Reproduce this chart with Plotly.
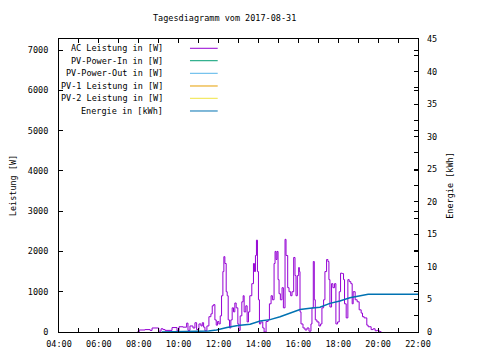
import plotly.graph_objects as go

DAY = "2017-08-31 "

# AC power (W)
ac_times = ["07:55","08:01","08:19","08:34","08:40","08:55","09:00","09:07","09:13","09:19",
            "09:34","09:40","09:52","09:55","10:01","10:13","10:24","10:28","10:34","10:43",
            "10:49","10:54","11:01","11:07","11:11","11:15","11:19","11:25","11:31","11:37",
            "11:41","11:45","11:49","11:53","11:57","12:01","12:05","12:09","12:13","12:16",
            "12:19","12:23","12:26","12:29","12:33","12:37","12:41","12:45","12:49","12:53",
            "12:58","13:01","13:05","13:10","13:14","13:17","13:22","13:26","13:30","13:34",
            "13:40","13:45","13:48","13:51","13:54","13:57","14:00","14:03","14:07","14:13",
            "14:17","14:23","14:29","14:33","14:38","14:42","14:47","14:50","14:53","14:56",
            "14:59","15:02","15:06","15:11","15:15","15:20","15:23","15:28","15:32","15:37",
            "15:41","15:46","15:50","15:53","15:57","16:01","16:03","16:05","16:08","16:14",
            "16:20","16:26","16:32","16:38","16:41","16:45","16:48","16:51","16:56","17:02",
            "17:07","17:11","17:16","17:20","17:25","17:29","17:32","17:35","17:40","17:44",
            "17:49","17:53","17:58","18:03","18:07","18:12","18:16","18:19","18:24","18:29",
            "18:33","18:38","18:42","18:45","18:51","18:57","19:03","19:09","19:13","19:18",
            "19:26","19:30","19:39","19:45","19:51","19:57","20:03","20:09"]
ac_values = [0,50,60,40,100,100,20,80,60,40,
             40,110,110,30,130,120,220,40,150,100,
             230,60,200,150,230,120,30,150,380,450,
             650,680,300,170,260,200,400,900,1500,1870,
             1700,1000,900,300,100,300,600,500,720,600,
             200,40,400,750,900,500,650,250,500,900,
             1200,1700,1500,1900,2280,1500,800,200,250,100,
             0,260,300,700,900,800,1700,2000,1800,2000,
             1300,950,800,1100,600,2300,1900,1100,1000,900,
             1000,1850,1400,900,1400,1600,1500,500,200,100,
             50,100,20,200,600,1750,800,300,250,150,
             200,600,800,1500,1800,1750,1300,620,1200,1100,
             1200,200,250,1000,1460,1450,1300,700,350,1300,
             1250,1200,700,1000,800,750,550,470,380,350,
             170,130,60,80,30,40,10,0]

# Energy (kWh)
en_times = ["09:09","10:39","11:30","11:54","12:25","12:58","13:35","14:05","14:35","15:05",
            "15:35","16:05","16:35","17:05","17:35","18:05","18:35","19:05","19:30","22:00"]
en_values = [0,0.1,0.15,0.3,0.7,1.0,1.2,1.7,1.9,2.35,
             2.95,3.45,3.65,3.8,4.4,4.75,5.25,5.55,5.8,5.8]

legend_names = ["AC Leistung in [W]", "PV-Power-In in [W]", "PV-Power-Out in [W]",
                "PV-1 Leistung in [W]", "PV-2 Leistung in [W]", "Energie in [kWh]"]
legend_colors = ["#9400D3", "#009E73", "#56B4E9", "#E69F00", "#F0E442", "#0072B2"]

title_text = "Tagesdiagramm vom 2017-08-31"
FONT = "DejaVu Sans Mono"
FS = 8.5

fig = go.Figure()
# Empty series (present in legend only)
for name, col in zip(legend_names[1:5], legend_colors[1:5]):
    fig.add_trace(go.Scatter(x=[DAY + ac_times[0]], y=[None], mode="lines", name=name,
                             line=dict(color=col, width=1), showlegend=False))
fig.add_trace(go.Scatter(x=[DAY + t for t in ac_times], y=ac_values, mode="lines",
                         name=legend_names[0],
                         line=dict(color=legend_colors[0], width=1, shape="hv"),
                         showlegend=False))
fig.add_trace(go.Scatter(x=[DAY + t for t in en_times], y=en_values, mode="lines",
                         name=legend_names[5], line=dict(color=legend_colors[5], width=1.5),
                         yaxis="y2", showlegend=False))

# custom gnuplot-style legend
leg_y = [0.9683, 0.9259, 0.8829, 0.8396, 0.7976, 0.7543]
annotations = []
shapes = []
for name, col, yy in zip(legend_names, legend_colors, leg_y):
    annotations.append(dict(text=name, x=0.2953, y=yy, xref="paper", yref="paper",
                            xanchor="right", yanchor="middle", showarrow=False,
                            font=dict(family=FONT, size=FS, color="black")))
    shapes.append(dict(type="line", xref="paper", yref="paper", x0=0.3649, x1=0.4421,
                       y0=yy, y1=yy, line=dict(color=col, width=1)))
annotations.append(dict(text=title_text, x=0.46, y=1.0717, xref="paper", yref="paper",
                        xanchor="center", yanchor="middle", showarrow=False,
                        font=dict(family=FONT, size=FS, color="black")))

fig.update_layout(
    width=480, height=360,
    margin=dict(l=51, r=70, t=31, b=36, autoexpand=False),
    paper_bgcolor="white", plot_bgcolor="white",
    font=dict(family=FONT, size=FS, color="black"),
    showlegend=False,
    annotations=annotations, shapes=shapes,
    xaxis=dict(type="date", range=[DAY + "04:00", DAY + "22:00"],
               dtick=2 * 3600 * 1000, tick0=DAY + "04:00", tickformat="%H:%M",
               ticks="inside", ticklen=4, tickcolor="black", showgrid=False,
               showline=True, linecolor="black", linewidth=1, mirror="ticks",
               zeroline=False, ticklabelstandoff=4, automargin=False,
               minor=dict(dtick=3600 * 1000, ticks="inside", ticklen=4, tickcolor="black",
                          showgrid=False)),
    yaxis=dict(range=[0, 7273], dtick=1000, tick0=0, ticks="inside", ticklen=4,
               tickcolor="black", showgrid=False, showline=True, linecolor="black",
               linewidth=1, mirror="ticks", zeroline=False, ticklabelstandoff=8,
               automargin=False,
               title=dict(text="Leistung [W]", standoff=12, font=dict(family=FONT, size=FS))),
    yaxis2=dict(range=[0, 45], dtick=5, tick0=0, overlaying="y", side="right",
                ticks="inside", ticklen=4, tickcolor="black", showgrid=False,
                showline=False, zeroline=False, ticklabelstandoff=8, automargin=False,
                minor=dict(dtick=2.5, ticks="inside", ticklen=4, tickcolor="black", showgrid=False),
                title=dict(text="Energie [kWh]", standoff=10, font=dict(family=FONT, size=FS))),
)

fig.write_html("out.html")
